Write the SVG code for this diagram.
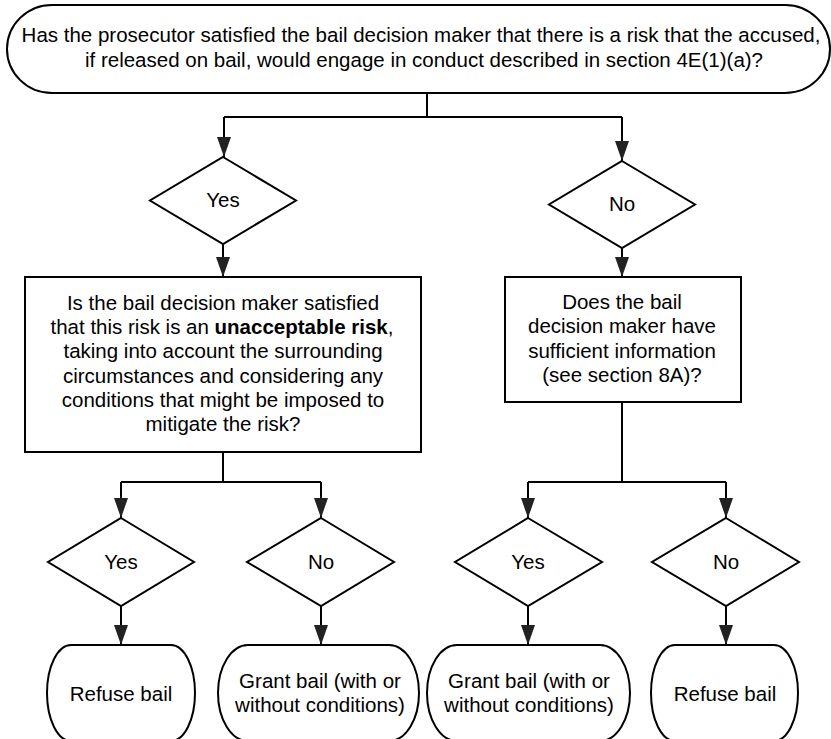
<svg xmlns="http://www.w3.org/2000/svg" width="831" height="739" viewBox="0 0 831 739">
<style>
.shape{fill:#fff;stroke:#000;stroke-width:2}
.conn{fill:none;stroke:#000;stroke-width:2}
text{font-family:"Liberation Sans",Arial,sans-serif;font-size:20.5px;fill:#000;text-anchor:middle}
</style>
<defs>
<marker id="arr" markerUnits="userSpaceOnUse" markerWidth="20" markerHeight="14" refX="20" refY="7" orient="auto">
<path d="M0,0 L20,7 L0,14 z" fill="#222"/>
</marker>
</defs>
<g id="connectors">
<path class="conn" d="M427,93 V117 M224,117 H622"/>
<path class="conn" d="M224,117 V157" marker-end="url(#arr)"/>
<path class="conn" d="M622,117 V161" marker-end="url(#arr)"/>
<path class="conn" d="M223,244 V277" marker-end="url(#arr)"/>
<path class="conn" d="M622,248 V277" marker-end="url(#arr)"/>
<path class="conn" d="M223,452 V482 M121,482 H321"/>
<path class="conn" d="M121,482 V518" marker-end="url(#arr)"/>
<path class="conn" d="M321,482 V518" marker-end="url(#arr)"/>
<path class="conn" d="M622,402 V482 M528,482 H726"/>
<path class="conn" d="M528,482 V518" marker-end="url(#arr)"/>
<path class="conn" d="M726,482 V518" marker-end="url(#arr)"/>
<path class="conn" d="M121,606 V645" marker-end="url(#arr)"/>
<path class="conn" d="M321,606 V645" marker-end="url(#arr)"/>
<path class="conn" d="M528,606 V645" marker-end="url(#arr)"/>
<path class="conn" d="M726,606 V645" marker-end="url(#arr)"/>
</g>
<g id="start">
<rect class="shape" x="7" y="5" width="823" height="88" rx="45" ry="44"/>
<text x="421" y="42">Has the prosecutor satisfied the bail decision maker that there is a risk that the accused,</text>
<text x="424" y="67">if released on bail, would engage in conduct described in section 4E(1)(a)?</text>
</g>
<g id="yes1">
<polygon class="shape" points="223,157 296,200.5 223,244 150,200.5"/>
<text x="223" y="207">Yes</text>
</g>
<g id="no1">
<polygon class="shape" points="622,161 695,204.5 622,248 549,204.5"/>
<text x="622" y="211">No</text>
</g>
<g id="risk">
<rect class="shape" x="25" y="277" width="396" height="175"/>
<text x="223" y="310">Is the bail decision maker satisfied</text>
<text x="222" y="334">that this risk is an <tspan font-weight="bold">unacceptable risk</tspan>,</text>
<text x="223" y="358">taking into account the surrounding</text>
<text x="223" y="383">circumstances and considering any</text>
<text x="223" y="407">conditions that might be imposed to</text>
<text x="223" y="431">mitigate the risk?</text>
</g>
<g id="info">
<rect class="shape" x="505" y="277" width="236" height="125"/>
<text x="622" y="309">Does the bail</text>
<text x="622" y="333">decision maker have</text>
<text x="622" y="358">sufficient information</text>
<text x="622" y="382">(see section 8A)?</text>
</g>
<g id="yes2">
<polygon class="shape" points="121,518 194,562 121,606 48,562"/>
<text x="121" y="568.5">Yes</text>
</g>
<g id="no2">
<polygon class="shape" points="321,518 394,562 321,606 247,562"/>
<text x="321" y="568.5">No</text>
</g>
<g id="yes3">
<polygon class="shape" points="528,518 602,562 528,606 455,562"/>
<text x="528" y="568.5">Yes</text>
</g>
<g id="no3">
<polygon class="shape" points="726,518 799,562 726,606 652,562"/>
<text x="726" y="568.5">No</text>
</g>
<g id="refuse1">
<rect class="shape" x="47" y="645" width="148" height="96" rx="24" ry="48"/>
<text x="121" y="700.5">Refuse bail</text>
</g>
<g id="grant1">
<rect class="shape" x="218" y="645" width="201" height="96" rx="30" ry="48"/>
<text x="320" y="688">Grant bail (with or</text>
<text x="320" y="712">without conditions)</text>
</g>
<g id="grant2">
<rect class="shape" x="427" y="645" width="203" height="96" rx="30" ry="48"/>
<text x="529" y="688">Grant bail (with or</text>
<text x="529" y="712">without conditions)</text>
</g>
<g id="refuse2">
<rect class="shape" x="651" y="645" width="147" height="96" rx="24" ry="48"/>
<text x="725" y="700.5">Refuse bail</text>
</g>
</svg>
